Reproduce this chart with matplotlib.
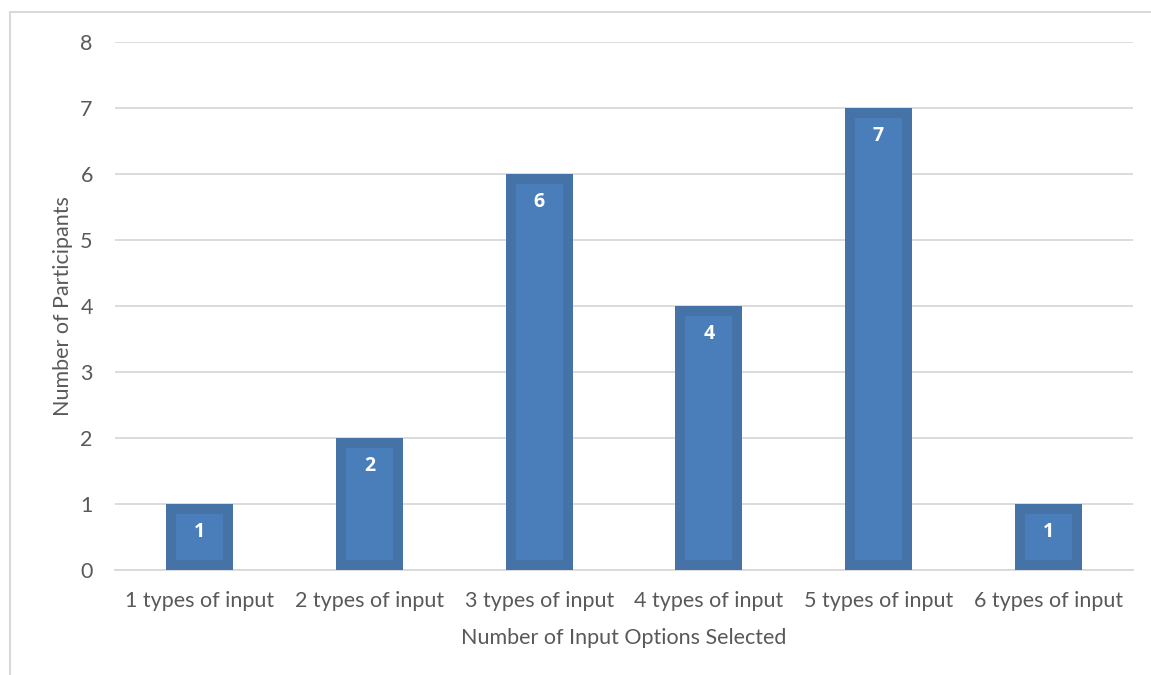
import matplotlib.pyplot as plt
from matplotlib.patches import Rectangle

# Data
categories = ['1 types of input', '2 types of input', '3 types of input',
              '4 types of input', '5 types of input', '6 types of input']
participants = [1, 2, 6, 4, 7, 1]
y_ticks = [0, 1, 2, 3, 4, 5, 6, 7, 8]

plt.rcParams['font.family'] = ['Lato', 'DejaVu Sans']

W, H = 1151, 675
fig = plt.figure(figsize=(W / 100, H / 100), dpi=100)

# chart border (only top/left visible in the crop)
fig.patches.append(Rectangle((10 / W, -0.1), 1.2, 1 - 12 / H + 0.1,
                             transform=fig.transFigure, fill=False,
                             edgecolor='#D9D9D9', linewidth=1.5))

ax = fig.add_axes([115 / W, (H - 570) / H, (1133 - 115) / W, (570 - 42) / H])

x = range(len(categories))
bars = ax.bar(x, participants, width=0.395, color='#4A7EBB',
              edgecolor='#4572A7', linewidth=14.4, zorder=3)
for b in bars:
    b.set_clip_path(b)

for i, v in enumerate(participants):
    ax.text(i, v - 0.42, str(v), ha='center', va='center', color='white',
            fontsize=14, fontweight='bold', family=['Open Sans', 'DejaVu Sans'],
            zorder=4)

ax.set_xlim(-0.5, len(categories) - 0.5)
ax.set_ylim(0, 8)
ax.set_yticks(y_ticks)
ax.set_xticks(list(x))
ax.set_xticklabels(categories)
ax.grid(axis='y', color='#D9D9D9', linewidth=1.3, zorder=0)
for s in ['top', 'right', 'left']:
    ax.spines[s].set_visible(False)
ax.spines['bottom'].set_color('#D9D9D9')
ax.spines['bottom'].set_linewidth(1.3)
ax.tick_params(length=0, labelsize=15.5, colors='#595959')
ax.tick_params(axis='x', pad=15)
ax.tick_params(axis='y', pad=16)

ax.set_xlabel('Number of Input Options Selected', fontsize=15.5, color='#595959', labelpad=12)
ax.set_ylabel('Number of Participants', fontsize=15.5, color='#595959', labelpad=5)

fig.savefig('out.png', dpi=100)
